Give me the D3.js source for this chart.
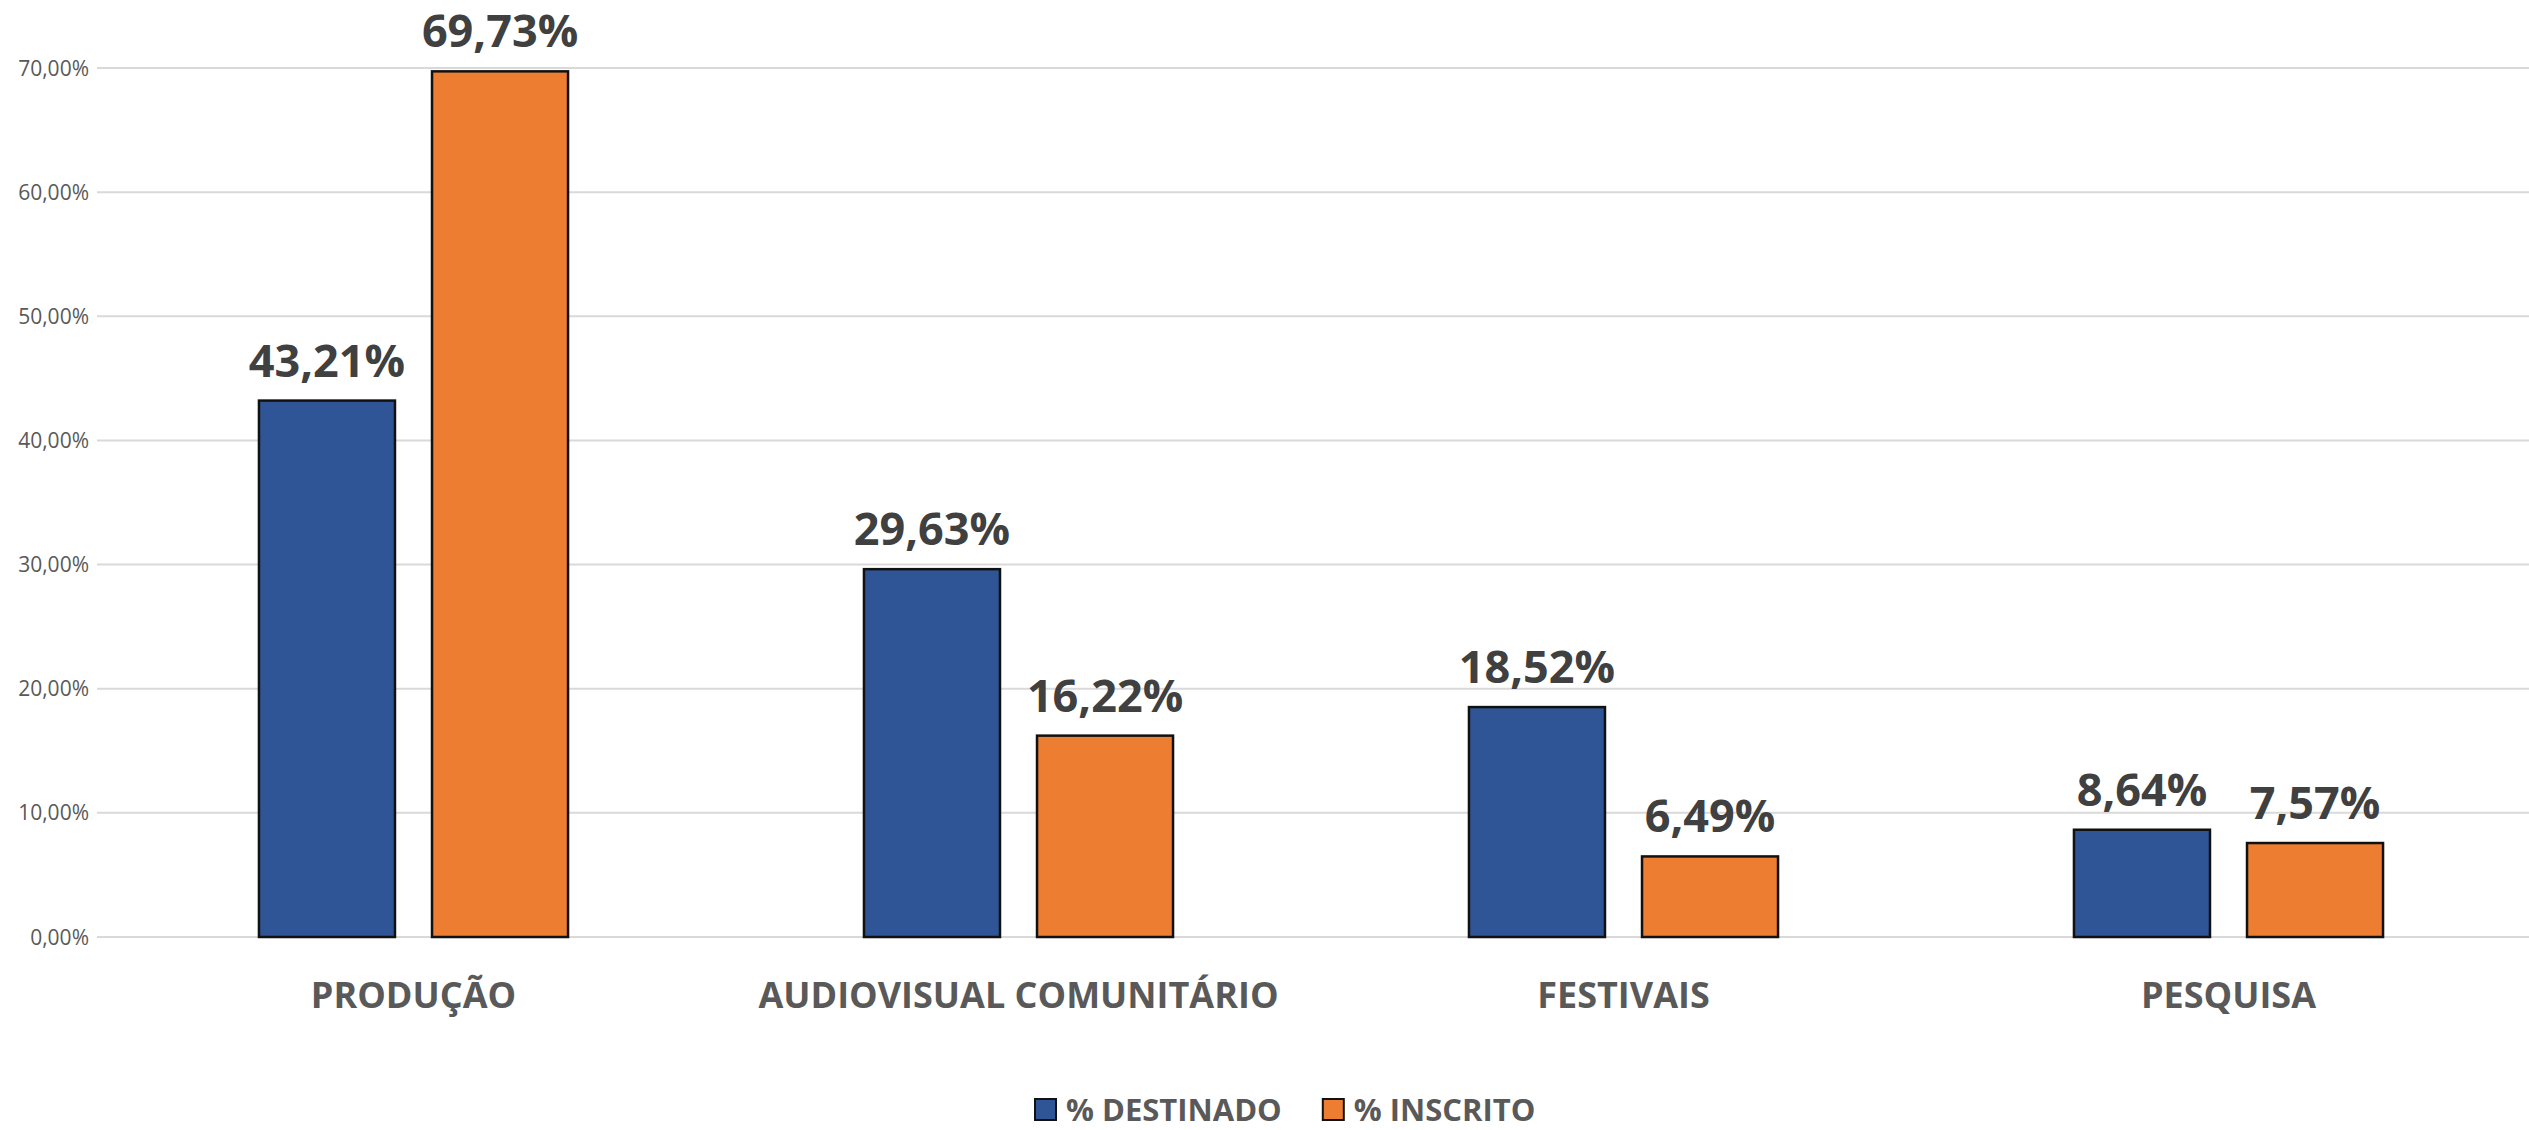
<!DOCTYPE html>
<html>
<head>
<meta charset="utf-8">
<script src="https://cdn.jsdelivr.net/npm/d3@7"></script>
<style>
  html, body { margin: 0; padding: 0; background: #fff; }
  svg { display: block; }
</style>
</head>
<body>
<div id="chart"></div>
<script>
// data
const categories = ['PRODUÇÃO', 'AUDIOVISUAL COMUNITÁRIO', 'FESTIVAIS', 'PESQUISA']
const seriesNames = ['% DESTINADO', '% INSCRITO']
const destinado = [43.21, 29.63, 18.52, 8.64]
const inscrito = [69.73, 16.22, 6.49, 7.57]
const yTicks = [0, 10, 20, 30, 40, 50, 60, 70]

const colors = ['#2F5597', '#ED7D31']
const w = 2529, h = 1130
const font = "'Open Sans', 'DejaVu Sans', sans-serif"

const fmt = v => v.toFixed(2).replace('.', ',') + '%'

const data = categories.map((c, i) => ({
  category: c,
  values: [destinado[i], inscrito[i]]
}))

const svg = d3.select('#chart').append('svg')
  .attr('width', w)
  .attr('height', h)

const x0 = d3.scaleBand()
  .domain(categories)
  .range([111, 2531])
  .padding(0)

const x1 = d3.scaleBand()
  .domain([0, 1])
  .range([0, x0.bandwidth()])
  .paddingInner(0.214)
  .paddingOuter(0.855)

const y = d3.scaleLinear()
  .domain([0, 70])
  .range([937, 68])

// gridlines
svg.append('g')
  .selectAll('line')
  .data(yTicks)
  .enter()
  .append('line')
  .attr('x1', 97)
  .attr('x2', w)
  .attr('y1', d => y(d))
  .attr('y2', d => y(d))
  .attr('stroke', '#D9D9D9')
  .attr('stroke-width', 2)

// y tick labels
svg.append('g')
  .selectAll('text')
  .data(yTicks)
  .enter()
  .append('text')
  .attr('x', 89)
  .attr('y', d => y(d))
  .attr('dy', '0.36em')
  .attr('text-anchor', 'end')
  .attr('font-family', font)
  .attr('font-size', '21px')
  .attr('fill', '#595959')
  .text(d => fmt(d))

const groups = svg.selectAll('.grp')
  .data(data)
  .enter()
  .append('g')
  .attr('class', 'grp')
  .attr('transform', d => `translate(${x0(d.category)},0)`)

const bars = groups.selectAll('.bar')
  .data(d => d.values.map((v, i) => ({ v, i })))
  .enter()

bars.append('rect')
  .attr('x', d => x1(d.i))
  .attr('y', d => y(d.v))
  .attr('width', x1.bandwidth())
  .attr('height', d => y(0) - y(d.v))
  .attr('fill', d => colors[d.i])
  .attr('stroke', '#111')
  .attr('stroke-width', 2.5)

bars.append('text')
  .attr('x', d => x1(d.i) + x1.bandwidth() / 2)
  .attr('y', d => y(d.v) - 24)
  .attr('text-anchor', 'middle')
  .attr('font-family', font)
  .attr('font-weight', '700')
  .attr('font-size', '45px')
  .attr('fill', '#404040')
  .text(d => fmt(d.v))

// category labels
svg.append('g')
  .selectAll('text')
  .data(categories)
  .enter()
  .append('text')
  .attr('x', d => x0(d) + x0.bandwidth() / 2)
  .attr('y', 1008)
  .attr('text-anchor', 'middle')
  .attr('font-family', font)
  .attr('font-weight', '700')
  .attr('font-size', '36px')
  .attr('fill', '#595959')
  .text(d => d)

// legend
const legend = svg.append('g')
let lx = 1035
seriesNames.forEach((name, i) => {
  legend.append('rect')
    .attr('x', lx)
    .attr('y', 1099)
    .attr('width', 21)
    .attr('height', 21)
    .attr('fill', colors[i])
    .attr('stroke', '#111')
    .attr('stroke-width', 2)
  const t = legend.append('text')
    .attr('x', lx + 31)
    .attr('y', 1121)
    .attr('font-family', font)
    .attr('font-weight', '700')
    .attr('font-size', '31px')
    .attr('fill', '#595959')
    .text(name)
  lx += 31 + t.node().getComputedTextLength() + 41
})
</script>
</body>
</html>
